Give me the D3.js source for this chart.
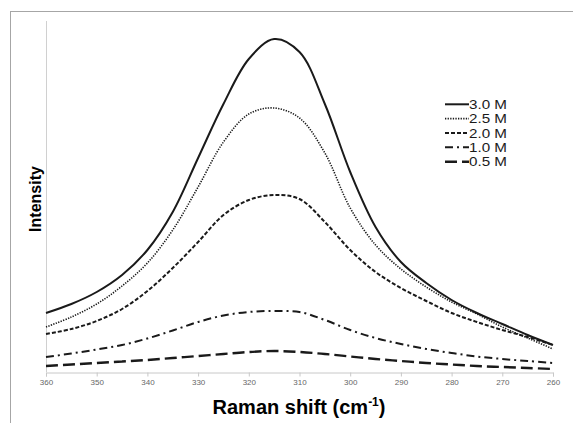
<!DOCTYPE html>
<html><head><meta charset="utf-8">
<script src="https://cdn.jsdelivr.net/npm/d3@7"></script>
<style>html,body{margin:0;padding:0;background:#fff;}svg{display:block;}</style>
</head><body>
<script>
const shifts = [360,355,350,345,340,335,330,325,320,315,310,305,300,295,290,285,280,275,270,265,260];
const s30 = [59,68,80,97,122,160,214,268,313,333,320,268,200,145,110,89,72,59,48,37,27];
const s25 = [45,55,68,86,109,142,185,230,258,264,254,219,164,127,103,85,70,58,45,34,23];
const s20 = [38,43,51,63,81,104,130,157,172,177,173,150,122,100,84,71,59,50,42,35,27];
const s10 = [15,18.5,22.5,27,33.5,41.5,50,56.5,60,61,60,52,42,34,28,23,19,15.5,13,11,9];
const s05 = [6,7.5,9,10.5,12,14,16,18,20,21,20,18,15.5,13,11,9,7.5,6,5,4,3];
const seriesNames = ["3.0 M","2.5 M","2.0 M","1.0 M","0.5 M"];
const xTicks = [360,350,340,330,320,310,300,290,280,270,260];

const series = [
  {name: seriesNames[0], values: s30, dash: null, w: 2},
  {name: seriesNames[1], values: s25, dash: "1.3,1.3", w: 1.6},
  {name: seriesNames[2], values: s20, dash: "4,2", w: 2},
  {name: seriesNames[3], values: s10, dash: "8,4,2,4", w: 2},
  {name: seriesNames[4], values: s05, dash: "12,5", w: 2.4}
];

const W = 573, H = 423;
const svg = d3.select("body").append("svg").attr("width", W).attr("height", H);

// outer frame
svg.append("rect").attr("x",10.5).attr("y",11.5).attr("width",W).attr("height",H)
  .attr("fill","none").attr("stroke","#a6a6a6").attr("stroke-width",1);

const x = d3.scaleLinear().domain([360,260]).range([46,553]);
const y = d3.scaleLinear().domain([0,351]).range([372,21]);

// y axis line
svg.append("line").attr("x1",46.5).attr("x2",46.5).attr("y1",21).attr("y2",372)
  .attr("stroke","#d0d0d0").attr("stroke-width",1);

// x axis
const xa = svg.append("g").attr("transform","translate(0,372.5)")
  .call(d3.axisBottom(x).tickValues(xTicks).tickSize(4).tickPadding(3).tickFormat(d3.format("d")));
xa.select(".domain").attr("stroke","#c8c8c8");
xa.selectAll(".tick line").attr("stroke","#c8c8c8");
xa.selectAll("text").attr("fill","#666").attr("font-family","Liberation Sans, Arial, sans-serif").attr("font-size","8px");

const line = d3.line().x((d,i)=>x(shifts[i])).y(d=>y(d)).curve(d3.curveCatmullRom.alpha(0.5));

series.forEach(s=>{
  svg.append("path").datum(s.values).attr("d",line).attr("fill","none")
    .attr("stroke","#1a1a1a").attr("stroke-width",s.w)
    .attr("stroke-dasharray", s.dash);
});

// legend
const lg = svg.append("g");
series.forEach((s,i)=>{
  const yy = 104.3 + i*14.35;
  lg.append("line").attr("x1",445).attr("x2",469).attr("y1",yy).attr("y2",yy)
    .attr("stroke","#1a1a1a").attr("stroke-width",s.w).attr("stroke-dasharray",s.dash);
  lg.append("text").attr("x",469).attr("y",yy+4.6).text(s.name)
    .attr("font-family","Liberation Sans, Arial, sans-serif").attr("font-size","12.4px")
    .attr("textLength",38).attr("lengthAdjust","spacingAndGlyphs").attr("fill","#1a1a1a");
});

// axis titles
const xt = svg.append("text").attr("x",299).attr("y",414).attr("text-anchor","middle")
  .attr("font-family","Liberation Sans, Arial, sans-serif").attr("font-size","20px").attr("font-weight","bold").attr("fill","#000");
xt.append("tspan").text("Raman shift (cm");
xt.append("tspan").text("-1").attr("font-size","12px").attr("dy","-8");
xt.append("tspan").text(")").attr("dy","8");

svg.append("text").attr("transform","translate(41,199) rotate(-90)").attr("text-anchor","middle")
  .attr("font-family","Liberation Sans, Arial, sans-serif").attr("font-size","16px").attr("font-weight","bold").attr("fill","#000")
  .text("Intensity");
</script>
</body></html>
